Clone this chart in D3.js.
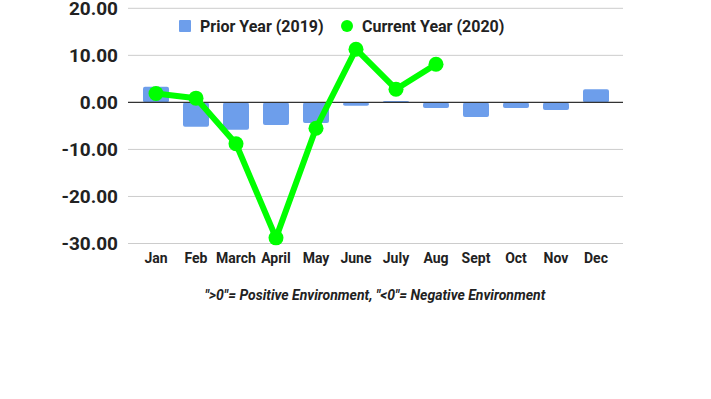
<!DOCTYPE html>
<html>
<head>
<meta charset="utf-8">
<script src="https://cdn.jsdelivr.net/npm/d3@7"></script>
<style>
  body { margin: 0; background: #fff; }
  text { font-family: Roboto, "Noto Sans", sans-serif; }
</style>
</head>
<body>
<div id="chart"></div>
<script>
const months = ["Jan", "Feb", "March", "April", "May", "June", "July", "Aug", "Sept", "Oct", "Nov", "Dec"];
const priorYear = [3.3, -5.2, -5.8, -4.8, -4.4, -0.7, 0.3, -1.2, -3.1, -1.2, -1.6, 2.8];
const currentYear = [1.9, 0.9, -8.8, -28.8, -5.5, 11.3, 2.8, 8.1];
const yTicks = [20, 10, 0, -10, -20, -30];

let width = 711, height = 399;

let svg = d3.select("#chart").append("svg")
  .attr("width", width)
  .attr("height", height);

let x = d3.scaleBand().domain(months).range([136, 616])
  .paddingInner(0.35).paddingOuter(0.175);
let y = d3.scaleLinear().domain([-30, 20]).range([243.5, 8.3]);

/* gridlines */
svg.append("g").selectAll("line")
  .data(yTicks.filter(d => d !== 0))
  .enter().append("line")
  .attr("x1", 128).attr("x2", 623)
  .attr("y1", d => y(d)).attr("y2", d => y(d))
  .attr("stroke", "#cccccc")
  .attr("stroke-width", 1);

/* y labels */
svg.append("g").selectAll("text")
  .data(yTicks)
  .enter().append("text")
  .attr("x", 118)
  .attr("y", d => y(d) + 6.8)
  .attr("text-anchor", "end")
  .style("font-size", "19px")
  .style("font-weight", "bold")
  .attr("fill", "#222")
  .text(d => d.toFixed(2));

/* bars */
svg.append("g").selectAll("rect")
  .data(priorYear)
  .enter().append("rect")
  .attr("x", (d, i) => x(months[i]))
  .attr("width", x.bandwidth())
  .attr("y", d => Math.min(y(d), y(0)))
  .attr("height", d => Math.max(Math.abs(y(d) - y(0)), 1))
  .attr("rx", 2)
  .attr("fill", "#6d9eeb");

/* zero line */
svg.append("line")
  .attr("x1", 128).attr("x2", 623)
  .attr("y1", y(0)).attr("y2", y(0))
  .attr("stroke", "#333")
  .attr("stroke-width", 1.2);

/* line series */
let line = d3.line()
  .x((d, i) => x(months[i]) + x.bandwidth() / 2)
  .y(d => y(d));

svg.append("path")
  .datum(currentYear)
  .attr("d", line)
  .attr("fill", "none")
  .attr("stroke", "#00ff00")
  .attr("stroke-width", 6)
  .attr("stroke-linejoin", "round");

svg.append("g").selectAll("circle")
  .data(currentYear)
  .enter().append("circle")
  .attr("cx", (d, i) => x(months[i]) + x.bandwidth() / 2)
  .attr("cy", d => y(d))
  .attr("r", 7.5)
  .attr("fill", "#00ff00");

/* x labels */
svg.append("g").selectAll("text")
  .data(months)
  .enter().append("text")
  .attr("x", d => x(d) + x.bandwidth() / 2)
  .attr("y", 263)
  .attr("text-anchor", "middle")
  .style("font-size", "14px")
  .style("font-weight", "bold")
  .attr("fill", "#222")
  .text(d => d);

/* legend */
let legend = svg.append("g");
legend.append("rect")
  .attr("x", 179).attr("y", 20)
  .attr("width", 12).attr("height", 12)
  .attr("rx", 1)
  .attr("fill", "#6d9eeb");
legend.append("text")
  .attr("x", 200).attr("y", 31.5)
  .style("font-size", "16px")
  .style("font-weight", "bold")
  .attr("fill", "#222")
  .text("Prior Year (2019)");
legend.append("circle")
  .attr("cx", 347).attr("cy", 26)
  .attr("r", 6)
  .attr("fill", "#00ff00");
legend.append("text")
  .attr("x", 362).attr("y", 31.5)
  .style("font-size", "16px")
  .style("font-weight", "bold")
  .attr("fill", "#222")
  .text("Current Year (2020)");

/* caption */
svg.append("text")
  .attr("x", 375).attr("y", 300)
  .attr("text-anchor", "middle")
  .style("font-size", "14px")
  .style("font-weight", "bold")
  .style("font-style", "italic")
  .attr("fill", "#222")
  .text("\">0\"= Positive Environment, \"<0\"= Negative Environment");
</script>
</body>
</html>
